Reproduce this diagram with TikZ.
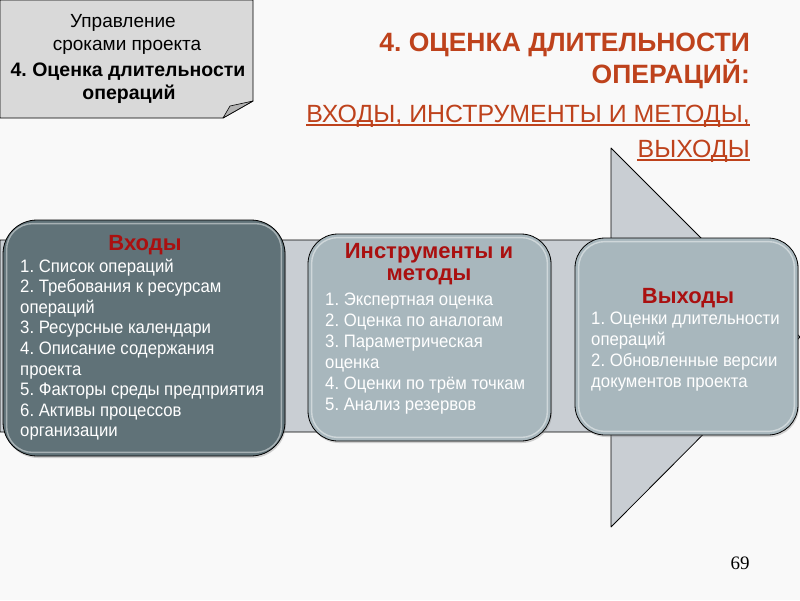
\documentclass[tikz,border=0pt]{standalone}
\usepackage{fontspec}
\setmainfont{Liberation Sans}
\newfontfamily\narrowfont[FakeStretch=0.93]{Liberation Sans}
\newfontfamily\numfont{Liberation Serif}
\usetikzlibrary{shadows}
\frenchspacing
\definecolor{slidebg}{RGB}{249,249,249}
\definecolor{titlered}{RGB}{190,66,28}
\definecolor{headred}{RGB}{170,16,16}
\definecolor{darkstage}{RGB}{96,114,120}
\definecolor{lightstage}{RGB}{168,183,189}
\definecolor{arrowgray}{RGB}{201,206,211}
\definecolor{notegray}{RGB}{217,217,217}
\begin{document}
\begin{tikzpicture}[x=1pt, y=-1pt, line join=round, line cap=round,
	stage/.style={draw=black, line width=.8pt, rounded corners=30pt, inner sep=0,
		drop shadow={shadow xshift=1pt, shadow yshift=-2pt, opacity=.35}},
	rim/.style={draw=white, line width=1.4pt, opacity=.45, rounded corners=26pt},
	head/.style={font=\bfseries\fontsize{22}{23}\selectfont, text=headred, inner sep=0},
	item/.style={font=\narrowfont\fontsize{18}{20}\selectfont, text=white, inner sep=0},
	notetext/.style={font=\fontsize{19}{23}\selectfont, inner sep=0},
	title/.style={font=\bfseries\fontsize{26.5}{30}\selectfont, text=titlered, inner sep=0},
	subtitle/.style={font=\fontsize{24.9}{30}\selectfont, text=titlered, inner sep=0},
	uline/.style={draw=titlered, line width=1.5pt, line cap=butt}
	]
	\fill[slidebg] (0,0) rectangle (800,600);
	\useasboundingbox (0,0) rectangle (800,600);
	% note
	\draw[fill=notegray, line width=.9pt] (0,0)--(253,0)--(253,101)--(223,118)--(0,118)--cycle;
	\draw[fill=black!30, line width=.6pt] (223,118)--(230,106)--(253,101)--cycle;
	\node[notetext, anchor=base] (note1) at (123,27) {Управление};
	\node[notetext, anchor=base] (note2) at (127,50) {сроками проекта};
	\node[notetext, anchor=base, font=\bfseries\fontsize{19.5}{23}\selectfont] (note3) at (128,76) {4. Оценка длительности};
	\node[notetext, anchor=base, font=\bfseries\fontsize{19.5}{23}\selectfont] (note4) at (129,99) {операций};
	% title
	\node[title, anchor=base east] (t1) at (750,51) {4. ОЦЕНКА ДЛИТЕЛЬНОСТИ};
	\node[title, anchor=base east] (t2) at (750,83) {ОПЕРАЦИЙ:};
	\node[subtitle, anchor=base east] (st1) at (750,122) {ВХОДЫ, ИНСТРУМЕНТЫ И МЕТОДЫ,};
	\node[subtitle, anchor=base east] (st2) at (750,157) {ВЫХОДЫ};
	\foreach \s in {st1,st2}
	\draw[uline] ([yshift=-3pt]\s.base west) -- ([yshift=-3pt]\s.base east);
	% arrow
	\draw[fill=arrowgray, line width=.8pt] (0,240)--(611,240)--(611,148)--(800,337)--(611,527)--(611,432)--(0,432)--cycle;
	% stages
	\node[stage, fill=darkstage, minimum width=282pt, minimum height=236pt, rounded corners=34pt] (in) at (144,338) {};
	\node[stage, fill=lightstage, minimum width=243pt, minimum height=207pt] (tm) at (429.5,337.5) {};
	\node[stage, fill=lightstage, minimum width=223pt, minimum height=197pt] (out) at (686.5,336.5) {};
	\foreach \b in {in,tm,out}
	\draw[rim] ([shift={(4,4)}]\b.north west) rectangle ([shift={(-4,-4)}]\b.south east);
	\node[head, anchor=base] (in-head) at (145,250) {Входы};
	\foreach \t [count=\i from 0] in {1. Список операций, 2. Требования к ресурсам, операций, 3. Ресурсные календари, 4. Описание содержания, проекта, 5. Факторы среды предприятия, 6. Активы процессов, организации}
	\node[item, anchor=base west] (in-\i) at (20,{272+20.6*\i}) {\t};
	\node[head, anchor=base] (tm-head1) at (429,258) {Инструменты и};
	\node[head, anchor=base] (tm-head2) at (429,280) {методы};
	\foreach \t [count=\i from 0] in {1. Экспертная оценка, 2. Оценка по аналогам, 3. Параметрическая, оценка, 4. Оценки по трём точкам, 5. Анализ резервов}
	\node[item, anchor=base west] (tm-\i) at (325,{305+21*\i}) {\t};
	\node[head, anchor=base] (out-head) at (688,303) {Выходы};
	\foreach \t [count=\i from 0] in {1. Оценки длительности, операций, 2. Обновленные версии, документов проекта}
	\node[item, anchor=base west] (out-\i) at (591,{324+21*\i}) {\t};
	% page number
	\node[font=\numfont\fontsize{19}{20}\selectfont, anchor=base, inner sep=0] (page) at (740,569) {69};
\end{tikzpicture}
\end{document}
